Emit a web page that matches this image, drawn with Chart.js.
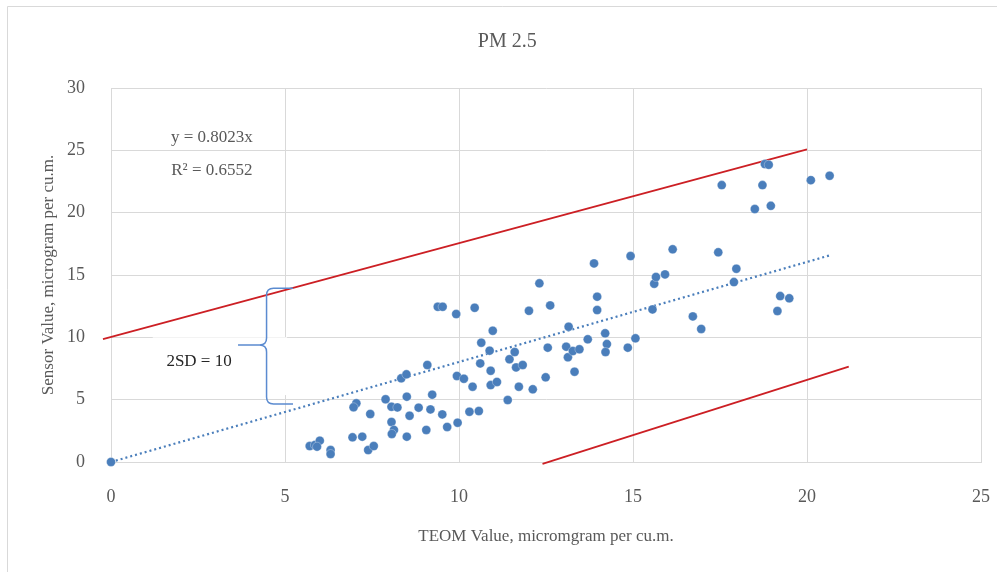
<!DOCTYPE html>
<html><head><meta charset="utf-8">
<script src="https://cdn.jsdelivr.net/npm/chart.js@4.4.1/dist/chart.umd.min.js"></script>
<style>html,body{margin:0;padding:0;background:#fff;}#wrap{width:997px;height:572px;}</style>
</head><body><div id="wrap"><canvas id="c" width="997" height="572"></canvas></div>
<script>
// ---- data ----
const teom = [0,5.71,5.86,6.00,5.92,6.31,6.31,6.94,7.22,7.39,7.55,7.05,6.97,7.45,7.89,8.06,8.23,8.06,8.13,8.07,8.50,8.58,8.84,8.50,8.34,8.49,9.09,9.23,9.18,9.06,9.52,9.66,9.96,9.39,9.53,9.92,10.45,9.94,10.14,10.39,10.30,10.57,10.61,10.64,10.88,10.91,10.91,11.09,10.97,11.40,11.45,11.60,11.64,11.83,11.72,12.12,12.01,12.31,12.49,12.55,12.62,13.08,13.13,13.15,13.27,13.46,13.32,13.70,13.88,13.97,13.97,14.20,14.25,14.21,14.85,15.07,14.93,15.56,15.61,15.66,15.92,16.14,16.72,16.96,17.45,17.55,17.90,17.97,18.50,18.72,18.79,18.90,18.96,19.15,19.23,19.49,20.11,20.65];
const sensor = [0,1.28,1.36,1.71,1.23,0.96,0.64,1.98,2.03,0.96,1.28,4.71,4.39,3.85,5.03,4.43,4.38,3.21,2.57,2.25,2.03,3.71,4.36,5.24,6.71,7.03,7.78,5.40,4.22,2.57,3.82,2.81,3.15,12.45,12.45,11.87,12.37,6.90,6.68,6.04,4.03,4.09,7.91,9.57,8.93,7.32,6.17,6.42,10.53,4.97,8.24,8.82,7.59,7.78,6.04,5.83,12.13,14.33,6.79,9.17,12.56,9.25,8.40,10.85,8.90,9.04,7.24,9.84,15.93,13.26,12.19,10.32,9.46,8.82,9.17,9.92,16.52,12.24,14.30,14.84,15.05,17.06,11.68,10.67,16.82,22.21,14.43,15.50,20.29,22.21,23.90,23.84,20.55,12.11,13.31,13.13,22.61,22.96];
const trendX = [0, 20.65];
const trendY = [0, 16.57];
const upperX = [-0.23, 20.0];
const upperY = [9.86, 25.08];
const lowerX = [12.4, 21.2];
const lowerY = [-0.15, 7.65];
const xTicks = [0, 5, 10, 15, 20, 25];
const yTicks = [0, 5, 10, 15, 20, 25, 30];
const titleText = 'PM 2.5';
const xTitle = 'TEOM Value, micromgram per cu.m.';
const yTitle = 'Sensor Value, microgram per cu.m.';
const eqText = 'y = 0.8023x';
const r2Text = 'R\u00B2 = 0.6552';
const sdText = '2SD = 10';
// ---- annotation placement (data units) ----
const annot = {
  eq: {x: 2.9, y: 26.06},
  r2: {x: 2.9, y: 23.34},
  sd: {x: 2.53, y: 8.04},
  box: {x0: 1.2, x1: 5.06, y0: 5.37, y1: 10.0},
  brace: {endX: 5.23, spineX: 4.47, tipX: 3.65, top: 13.93, tip: 9.38, bottom: 4.65}
};

const pts = teom.map((v, i) => ({x: v, y: sensor[i]}));
const toXY = (xs, ys) => xs.map((v, i) => ({x: v, y: ys[i]}));
const SERIF = '"Liberation Serif", "Times New Roman", serif';
const GREY = '#595959';
const GRID = '#d9d9d9';
const BLUE = '#4a7ebb';
const RED = '#cc1f24';

const annotPlugin = {
  id: 'annot',
  beforeDraw(chart) {
    const ctx = chart.ctx;
    ctx.save();
    ctx.fillStyle = '#fff';
    ctx.fillRect(0, 0, chart.width, chart.height);
    ctx.strokeStyle = GRID;
    ctx.lineWidth = 1;
    ctx.beginPath();
    ctx.moveTo(7.5, chart.height);
    ctx.lineTo(7.5, 6.5);
    ctx.lineTo(chart.width, 6.5);
    ctx.stroke();
    // chart title (centred on the full Excel chart frame)
    ctx.font = '20px ' + SERIF;
    ctx.fillStyle = GREY;
    ctx.textAlign = 'center';
    ctx.textBaseline = 'middle';
    ctx.fillText(titleText, (7.5 + chart.width + 10) / 2, 42);
    ctx.restore();
  },
  beforeDatasetsDraw(chart) {
    const {ctx, scales: {x, y}} = chart;
    const b = annot.box;
    ctx.save();
    ctx.fillStyle = '#fff';
    const px0 = x.getPixelForValue(b.x0), px1 = x.getPixelForValue(b.x1);
    const py0 = y.getPixelForValue(b.y1), py1 = y.getPixelForValue(b.y0);
    ctx.fillRect(px0, py0, px1 - px0, py1 - py0);
    ctx.restore();
  },
  afterDatasetsDraw(chart) {
    const {ctx, scales: {x, y}} = chart;
    ctx.save();
    ctx.font = '17px ' + SERIF;
    ctx.textAlign = 'center';
    ctx.textBaseline = 'middle';
    ctx.fillStyle = GREY;
    ctx.fillText(eqText, x.getPixelForValue(annot.eq.x), y.getPixelForValue(annot.eq.y));
    ctx.fillText(r2Text, x.getPixelForValue(annot.r2.x), y.getPixelForValue(annot.r2.y));
    ctx.fillStyle = '#262626';
    ctx.fillText(sdText, x.getPixelForValue(annot.sd.x), y.getPixelForValue(annot.sd.y));
    // brace
    const br = annot.brace;
    const ex = x.getPixelForValue(br.endX), sx = x.getPixelForValue(br.spineX), tx = x.getPixelForValue(br.tipX);
    const ty = y.getPixelForValue(br.top), my = y.getPixelForValue(br.tip), by = y.getPixelForValue(br.bottom);
    const r = 7;
    ctx.strokeStyle = '#5b8bd0';
    ctx.lineWidth = 1.5;
    ctx.beginPath();
    ctx.moveTo(ex, ty);
    ctx.lineTo(sx + r, ty);
    ctx.quadraticCurveTo(sx, ty, sx, ty + r);
    ctx.lineTo(sx, my - r);
    ctx.quadraticCurveTo(sx, my, sx - r, my);
    ctx.lineTo(tx, my);
    ctx.moveTo(sx - r, my);
    ctx.quadraticCurveTo(sx, my, sx, my + r);
    ctx.lineTo(sx, by - r);
    ctx.quadraticCurveTo(sx, by, sx + r, by);
    ctx.lineTo(ex, by);
    ctx.stroke();
    ctx.restore();
  }
};

new Chart(document.getElementById('c'), {
  type: 'scatter',
  data: {
    datasets: [
      {label: 'upper', type: 'line', data: toXY(upperX, upperY), borderColor: RED, borderWidth: 1.8, pointRadius: 0, clip: false, order: 3},
      {label: 'lower', type: 'line', data: toXY(lowerX, lowerY), borderColor: RED, borderWidth: 1.8, pointRadius: 0, clip: false, order: 3},
      {label: 'trend', type: 'line', data: toXY(trendX, trendY), borderColor: BLUE, borderWidth: 2.2, borderDash: [2, 3], pointRadius: 0, order: 2},
      {label: 'PM 2.5', data: pts, backgroundColor: BLUE, borderColor: 'rgba(255,255,255,0.5)', borderWidth: 0.6, pointRadius: 4.5, clip: false, order: 1}
    ]
  },
  options: {
    responsive: false,
    animation: false,
    events: [],
    layout: {padding: {left: 17, right: 16, top: 88, bottom: 0}},
    plugins: {
      legend: {display: false},
      tooltip: {enabled: false},
      title: {display: false}
    },
    scales: {
      x: {
        type: 'linear', min: 0, max: 25,
        afterBuildTicks: s => { s.ticks = xTicks.map(v => ({value: v})); },
        afterFit: s => { s.height = 110; s.paddingLeft = 0; s.paddingRight = 0; },
        grid: {color: GRID, drawTicks: false},
        border: {color: GRID},
        ticks: {color: GREY, font: {family: SERIF, size: 18}, padding: 24},
        title: {display: true, text: xTitle, color: GREY, font: {family: SERIF, size: 17}, padding: {top: 0, bottom: 25}}
      },
      y: {
        type: 'linear', min: 0, max: 30,
        afterBuildTicks: s => { s.ticks = yTicks.map(v => ({value: v})); },
        afterFit: s => { s.width = 94; s.paddingTop = 0; s.paddingBottom = 0; },
        grid: {color: GRID, drawTicks: false},
        border: {color: GRID},
        ticks: {color: GREY, font: {family: SERIF, size: 18}, padding: 26},
        title: {display: true, text: yTitle, color: GREY, font: {family: SERIF, size: 17}, padding: {top: 21, bottom: 0}}
      }
    }
  },
  plugins: [annotPlugin]
});
</script></body></html>
